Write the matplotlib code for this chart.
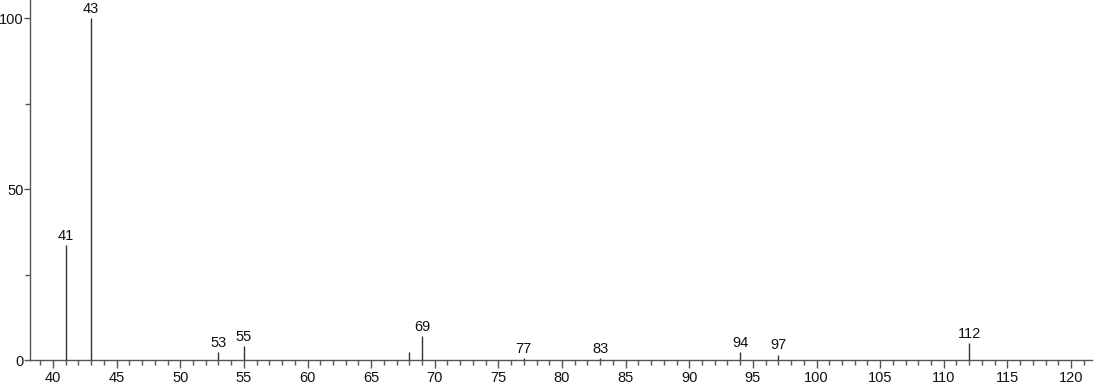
import matplotlib
matplotlib.use("Agg")
import matplotlib.pyplot as plt
from matplotlib.ticker import MultipleLocator

mz = [41, 43, 53, 55, 68, 69, 77, 83, 94, 97, 112]
intensity = [33.6, 100, 2.3, 4.1, 2.3, 7.0, 0.7, 0.6, 2.4, 1.6, 5.0]
labeled = [41, 43, 53, 55, 69, 77, 83, 94, 97, 112]

plt.rcParams['font.family'] = ['Liberation Sans', 'DejaVu Sans']

fig = plt.figure(figsize=(10.94, 3.84), dpi=100)
ax = fig.add_axes([30/1094, 24/384, 1062/1094, 360/384])

col = '#333333'
ax.vlines(mz, 0, intensity, colors=col, linewidth=1.0)
for m, v in zip(mz, intensity):
    if m in labeled:
        ax.annotate(str(m), (m, v), xytext=(0, 1.5), textcoords='offset points',
                    ha='center', va='bottom', fontsize=10.5, color='#111111')

ax.set_xlim(38.19, 121.65)
ax.set_ylim(0, 105.3)
ax.xaxis.set_major_locator(MultipleLocator(5))
ax.xaxis.set_minor_locator(MultipleLocator(1))
ax.yaxis.set_major_locator(MultipleLocator(50))
ax.yaxis.set_minor_locator(MultipleLocator(25))
for s in ['top', 'right']:
    ax.spines[s].set_visible(False)
for s in ['left', 'bottom']:
    ax.spines[s].set_color('#555555')
    ax.spines[s].set_linewidth(1.0)
ax.tick_params(axis='x', which='major', length=6, width=1, color='#555555',
               labelsize=10.5, labelcolor='#111111', pad=2)
ax.tick_params(axis='y', which='major', length=4.5, width=1, color='#555555',
               labelsize=10.5, labelcolor='#111111', pad=0)
ax.tick_params(axis='both', which='minor', length=3.5, width=1, color='#555555')

fig.savefig('out.png', dpi=100)
